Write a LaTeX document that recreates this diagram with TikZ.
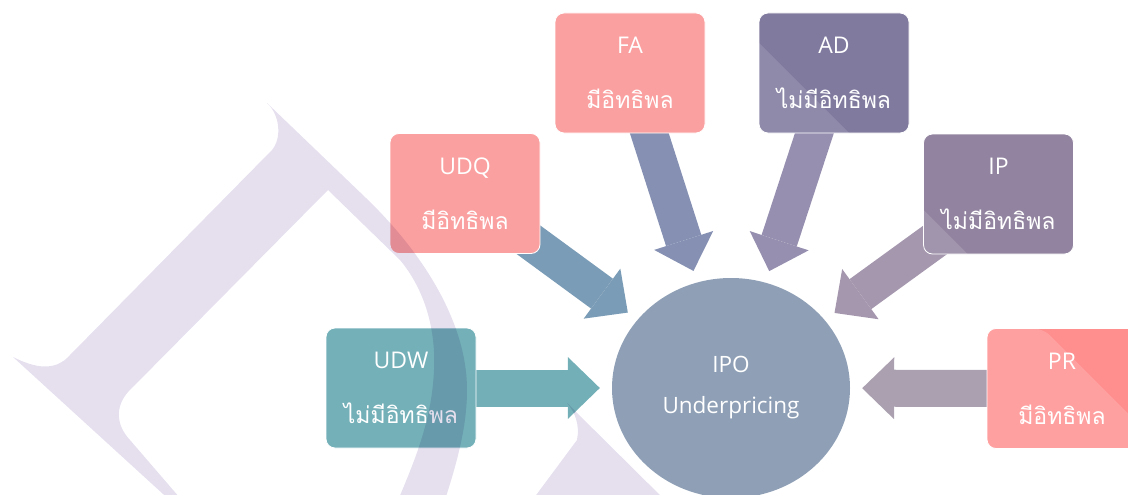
\documentclass[tikz,border=0pt]{standalone}
\usepackage{fontspec}
\setmainfont{Open Sans}
\newfontfamily\thaifont[Script=Thai]{Loma}
\usepackage{tikz}
\usetikzlibrary{arrows.meta, shapes.geometric, backgrounds}

\definecolor{pinkbox}{HTML}{FBA0A0}
\definecolor{redbox}{HTML}{FF8E8E}
\definecolor{adbox}{HTML}{817A9F}
\definecolor{ipbox}{HTML}{9284A0}
\definecolor{tealbox}{HTML}{73B0B8}
\definecolor{ipofill}{HTML}{8FA0B6}
\definecolor{udwarr}{HTML}{72AFB7}
\definecolor{udqarr}{HTML}{7B9CB6}
\definecolor{faarr}{HTML}{8590B3}
\definecolor{adarr}{HTML}{978FB0}
\definecolor{iparr}{HTML}{A597AE}
\definecolor{prarr}{HTML}{AAA0AF}
\definecolor{wmark}{HTML}{E6E0EE}

\begin{document}
\begin{tikzpicture}[x=1pt, y=-1pt,
    box/.style={draw=white, line width=0.8pt, rounded corners=9pt, fill=#1,
      minimum width=150pt, minimum height=120pt, inner sep=0pt,
      text=white, align=center, font=\fontsize{23}{27}\selectfont},
    shine/.style 2 args={path picture={\fill[white, fill opacity=#2]
      ([xshift=#1]path picture bounding box.north west) -- ++(400pt,-400pt)
      -- ++(-1000pt,0pt) -- ++(0pt,400pt) -- cycle;}},
    bigarrow/.style={color=#1, line width=37pt, shorten <=-30pt, shorten >=12pt,
      -{Triangle[length=32pt, width=62pt, line width=0pt]}}]
    \useasboundingbox (0,0) rectangle (1128,495);
    \clip (0,0) rectangle (1128,495);

    \node[ellipse, minimum width=238pt, minimum height=220pt, inner sep=0pt,
      fill=ipofill, text=white, align=center, font=\fontsize{22.5}{24}\selectfont]
      (ipo) at (731,388) {IPO\\[17pt]Underpricing};

    \node[box=pinkbox] (udq) at (465,193.5) {UDQ\\[28pt]{\thaifont มีอิทธิพล}};
    \node[box=pinkbox] (fa) at (630,73) {FA\\[28pt]{\thaifont มีอิทธิพล}};
    \node[box=adbox, shine={-30pt}{0.12}] (ad) at (834,73) {AD\\[28pt]{\thaifont ไม่มีอิทธิพล}};
    \node[box=ipbox, shine={-76pt}{0.14}] (ip) at (998.5,194) {IP\\[28pt]{\thaifont ไม่มีอิทธิพล}};
    \node[box=redbox, shine={56pt}{0.16}] (pr) at (1062,388.5) {PR\\[28pt]{\thaifont มีอิทธิพล}};
    \node[box=tealbox] (udw) at (401,388) {UDW\\[28pt]{\thaifont ไม่มีอิทธิพล}};

    \begin{pgfonlayer}{background}
      \path[bigarrow=udwarr] (udw) edge (ipo);
      \path[bigarrow=udqarr] (udq) edge (ipo);
      \path[bigarrow=faarr] (fa) edge (ipo);
      \path[bigarrow=adarr] (ad) edge (ipo);
      \path[bigarrow=iparr] (ip) edge (ipo);
      \path[bigarrow=prarr] (pr) edge (ipo);
    \end{pgfonlayer}

    \begin{scope}[blend mode=multiply]
      \fill[wmark, even odd rule]
        (267,103) -- (366,198) .. controls (420,250) and (467,320) .. (467,390)
        .. controls (467,430) and (455,470) .. (440,515) -- (186,515)
        -- (13,357) .. controls (35,368) and (55,372) .. (70,355) -- (272,150)
        .. controls (282,138) and (280,115) .. (267,103) -- cycle
        (328,190) -- (400,260) .. controls (425,290) and (436,330) .. (434,370)
        .. controls (432,420) and (415,460) .. (396,505) -- (186,505)
        -- (130,440) .. controls (116,425) and (115,407) .. (128,392) -- cycle;
      \fill[wmark] (567,403) .. controls (575,412) and (580,425) .. (577,440)
        -- (525,510) -- (675,510) -- cycle;
    \end{scope}
  \end{tikzpicture}
\end{document}
